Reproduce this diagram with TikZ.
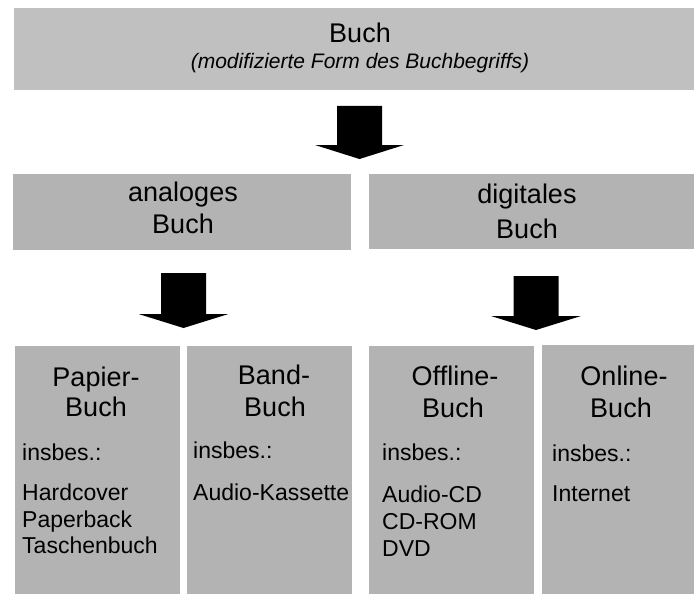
\documentclass[tikz,border=0pt]{standalone}
\usepackage{fontspec}
\setmainfont{Liberation Sans}
\definecolor{topgray}{HTML}{C0C0C0}
\definecolor{boxgray}{HTML}{B3B3B3}
\begin{document}
\begin{tikzpicture}[x=1pt,y=-1pt,
  box/.style={fill=boxgray, draw=none, inner sep=0pt, anchor=north west},
  title/.style={inner sep=0pt, anchor=base, font=\fontsize{27}{32}\selectfont},
  subtitle/.style={inner sep=0pt, anchor=base, font=\fontsize{21}{25}\selectfont\itshape},
  item/.style={inner sep=0pt, anchor=base west, font=\fontsize{23}{27}\selectfont},
  blockarrow/.style={fill=black, draw=none}]
\useasboundingbox (0,0) rectangle (694,594);

% boxes
\node[box, fill=topgray, minimum width=680pt, minimum height=82pt] (buch) at (14,8) {};
\node[box, minimum width=338pt, minimum height=76pt] (analog) at (13,174) {};
\node[box, minimum width=325pt, minimum height=75pt] (digital) at (369,174) {};
\node[box, minimum width=165pt, minimum height=248pt] (papier) at (15,346) {};
\node[box, minimum width=165pt, minimum height=248pt] (band) at (187,346) {};
\node[box, minimum width=165pt, minimum height=248pt] (offline) at (369,346) {};
\node[box, minimum width=152pt, minimum height=249pt] (online) at (542,345) {};

% top texts
\node[title] (t0) at (360,43) {Buch};
\node[subtitle] (t0b) at (360,69) {(modifizierte Form des Buchbegriffs)};

% level 2 texts
\node[title] (ta1) at (183,201) {analoges};
\node[title] (ta2) at (183,233) {Buch};
\node[title] (td1) at (527,203) {digitales};
\node[title] (td2) at (527,238) {Buch};

% bottom titles
\node[title] (tp1) at (96,386) {Papier-};
\node[title] (tp2) at (96,416) {Buch};
\node[title] (tb1) at (274,384) {Band-};
\node[title] (tb2) at (275,416) {Buch};
\node[title] (tf1) at (455,385) {Offline-};
\node[title] (tf2) at (453,417) {Buch};
\node[title] (tn1) at (624,385) {Online-};
\node[title] (tn2) at (621,417) {Buch};

% items
\node[item] (ip0) at (22,460) {insbes.:};
\node[item] (ip1) at (22,500) {Hardcover};
\node[item] (ip2) at (22,527) {Paperback};
\node[item] (ip3) at (22,553) {Taschenbuch};
\node[item] (ib0) at (193,458) {insbes.:};
\node[item] (ib1) at (193,500) {Audio-Kassette};
\node[item] (if0) at (382,460) {insbes.:};
\node[item] (if1) at (382,502) {Audio-CD};
\node[item] (if2) at (382,529) {CD-ROM};
\node[item] (if3) at (382,556) {DVD};
\node[item] (in0) at (552,461) {insbes.:};
\node[item] (in1) at (552,501) {Internet};

% block arrows (tips)
\coordinate (a1) at (359.5,159);
\coordinate (a2) at (183.5,328);
\coordinate (a3) at (536,330);
\fill[blockarrow] (a1) -- ++(-44.5,-14) -- ++(22,0) -- ++(0,-39) -- ++(45,0) -- ++(0,39) -- ++(22,0) -- cycle;
\fill[blockarrow] (a2) -- ++(-45,-14) -- ++(22.5,0) -- ++(0,-41) -- ++(45,0) -- ++(0,41) -- ++(22.5,0) -- cycle;
\fill[blockarrow] (a3) -- ++(-45,-14) -- ++(22.5,0) -- ++(0,-40) -- ++(45,0) -- ++(0,40) -- ++(22.5,0) -- cycle;
\end{tikzpicture}
\end{document}
